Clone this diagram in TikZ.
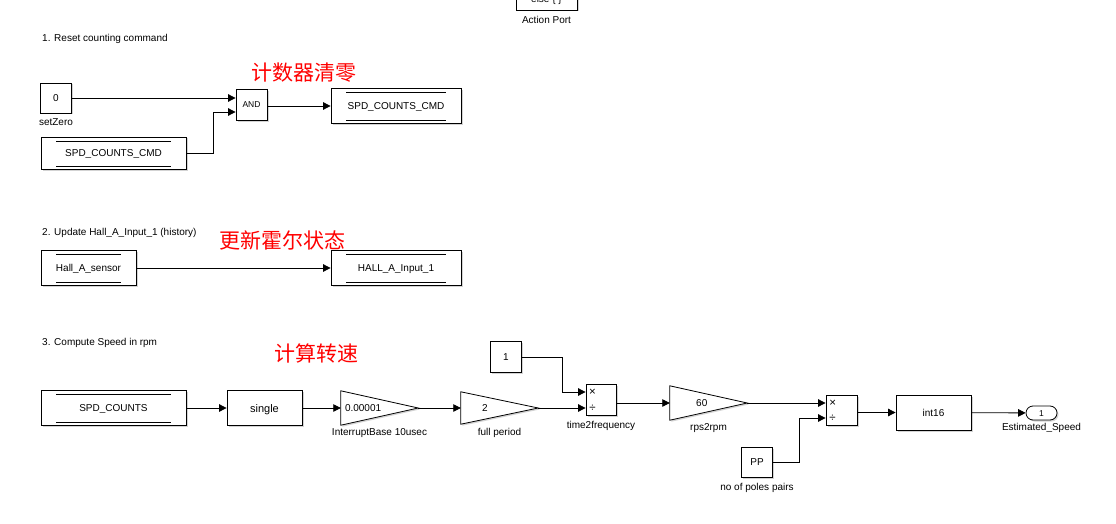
\documentclass[tikz,border=0pt]{standalone}
\usepackage{fontspec}
\setmainfont{Liberation Sans}
\newfontfamily\cjk{Noto Sans CJK SC}
\usetikzlibrary{arrows.meta, positioning, shadows}

\tikzset{
  blk/.style={draw, line width=0.8pt, fill=white, inner sep=0pt,
    font=\fontsize{10}{12}\selectfont, text height=7pt, text depth=0pt,
    drop shadow={shadow xshift=1.5pt, shadow yshift=-1.5pt, opacity=0.35}},
  cst/.style={blk, minimum width=31pt, minimum height=30pt},
  dstore/.style={blk, minimum height=35pt,
    path picture={
      \draw[line width=0.7pt] ([xshift=15pt,yshift=-4pt]path picture bounding box.north west)
        -- ([xshift=-15pt,yshift=-4pt]path picture bounding box.north east);
      \draw[line width=0.7pt] ([xshift=15pt,yshift=3pt]path picture bounding box.south west)
        -- ([xshift=-15pt,yshift=3pt]path picture bounding box.south east);
    }},
  gainbox/.style={minimum width=77pt, minimum height=34pt, inner sep=0pt},
  gtri/.style={line width=0.8pt, fill=white,
    drop shadow={shadow xshift=1.5pt, shadow yshift=-1.5pt, opacity=0.35}},
  lbl/.style={font=\fontsize{10}{11}\selectfont, inner sep=1pt},
  note/.style={font=\fontsize{10}{11}\selectfont, anchor=west, inner sep=0pt},
  sym/.style={font=\fontsize{11.5}{12}\selectfont, inner sep=0pt},
  zh/.style={font=\cjk\fontsize{21}{24}\selectfont, text=red, inner sep=0pt},
  wire/.style={-{Triangle[length=7.5pt,width=7.5pt]}, line width=0.8pt}
}

\begin{document}
\begin{tikzpicture}[x=1pt, y=-1pt]
  \useasboundingbox (0,0) rectangle (1116,524);

  % action port (cut at the top)
  \node[blk, minimum width=61pt, minimum height=32pt] (act) at (546.5,-6) {};
  \node[font=\fontsize{10}{12}\selectfont, anchor=base, inner sep=0pt] (acttxt) at (546.5,2.5) {else \{ \}};
  \node[lbl, below=5pt of act] {Action Port};

  % 1. reset counter
  \node[note] (n1) at (42,39) {1. Reset counting command};
  \node[zh] (zh1) at (304,73) {计数器清零};
  \node[cst] (zero) at (56,98) {0};
  \node[lbl, below=4pt of zero] {setZero};
  \node[blk, minimum width=31pt, minimum height=31pt, font=\fontsize{8.5}{9}\selectfont, text height=6pt] (and) at (251.5,105) {AND};
  \node[dstore, minimum width=145pt, minimum height=32pt] (cmdin) at (113.5,153) {SPD\_COUNTS\_CMD};
  \node[dstore, minimum width=130pt] (cmdout) at (396,106) {SPD\_COUNTS\_CMD};

  \draw[wire] (zero.east) -- (zero.east -| and.west);
  \draw[wire] (cmdin.east) -- ++(27,0) |- ([yshift=-7pt]and.west);
  \draw[wire] (and.east |- cmdout.west) -- (cmdout.west);

  % 2. hall history
  \node[note] (n2) at (42,233) {2. Update Hall\_A\_Input\_1 (history)};
  \node[zh] (zh2) at (282,240) {更新霍尔状态};
  \node[dstore, minimum width=95pt] (hallin) at (88.5,268) {Hall\_A\_sensor};
  \node[dstore, minimum width=130pt] (hallout) at (396,268) {HALL\_A\_Input\_1};
  \draw[wire] (hallin) -- (hallout);

  % 3. speed
  \node[note] (n3) at (42,343) {3. Compute Speed in rpm};
  \node[zh] (zh3) at (316,353) {计算转速};
  \node[dstore, minimum width=145pt] (cnt) at (113.5,408) {SPD\_COUNTS};
  \node[blk, minimum width=75pt, minimum height=35pt, font=\fontsize{11}{12}\selectfont, text height=8pt] (single) at (264.5,408) {single};

  \node[gainbox] (ib) at (379.5,408) {};
  \draw[gtri] (ib.north west) -- (ib.east) -- (ib.south west) -- cycle;
  \node[font=\fontsize{10}{11}\selectfont, anchor=west, inner sep=0pt] at ([xshift=4pt]ib.west) {0.00001};
  \node[lbl, below=2pt of ib] {InterruptBase 10usec};

  \node[gainbox, minimum height=32pt] (fp) at (499.5,408) {};
  \draw[gtri] (fp.north west) -- (fp.east) -- (fp.south west) -- cycle;
  \node[font=\fontsize{10}{11}\selectfont, inner sep=0pt] at ([xshift=24pt]fp.west) {2};
  \node[lbl, below=3pt of fp] {full period};

  \node[cst, minimum height=31pt] (one) at (506,357) {1};
  \node[blk, minimum width=30pt, minimum height=31pt] (t2f) at (601,400) {};
  \node[sym] at ([xshift=7pt,yshift=8pt]t2f.west) {×};
  \node[sym] at ([xshift=7pt,yshift=-8pt]t2f.west) {÷};
  \node[lbl, below=4pt of t2f] {time2frequency};

  \node[gainbox] (r2r) at (708.5,403) {};
  \draw[gtri] (r2r.north west) -- (r2r.east) -- (r2r.south west) -- cycle;
  \node[font=\fontsize{10}{11}\selectfont, inner sep=0pt] at ([xshift=32pt]r2r.west) {60};
  \node[lbl, below=2pt of r2r] {rps2rpm};

  \node[blk, minimum width=31pt, minimum height=30pt] (div2) at (841.5,410.5) {};
  \node[sym] at ([xshift=7pt,yshift=7.5pt]div2.west) {×};
  \node[sym] at ([xshift=7pt,yshift=-7.5pt]div2.west) {÷};
  \node[cst] (pp) at (757,462) {PP};
  \node[lbl, below=5pt of pp] {no of poles pairs};

  \node[blk, minimum width=75pt, minimum height=35pt] (i16) at (933.5,412.5) {int16};
  \node[blk, rounded corners=7pt, minimum width=31pt, minimum height=14pt, font=\fontsize{8.5}{9}\selectfont, text height=6pt] (out) at (1041.5,413) {1};
  \node[lbl, below=2pt of out] {Estimated\_Speed};

  \draw[wire] (cnt) -- (single);
  \draw[wire] (single) -- (ib.west);
  \draw[wire] (ib.east) -- (fp.west);
  \draw[wire] (fp.east) -- (fp.east -| t2f.west);
  \draw[wire] (one.east) -- ++(40,0) |- ([yshift=8pt]t2f.west);
  \draw[wire] (t2f.east |- r2r.west) -- (r2r.west);
  \draw[wire] (r2r.east) -- (r2r.east -| div2.west);
  \draw[wire] (pp.east) -- ++(26,0) |- ([yshift=-7.5pt]div2.west);
  \draw[wire] (div2.east |- i16.west) -- (i16.west);
  \draw[wire] (i16) -- (out);
\end{tikzpicture}
\end{document}
